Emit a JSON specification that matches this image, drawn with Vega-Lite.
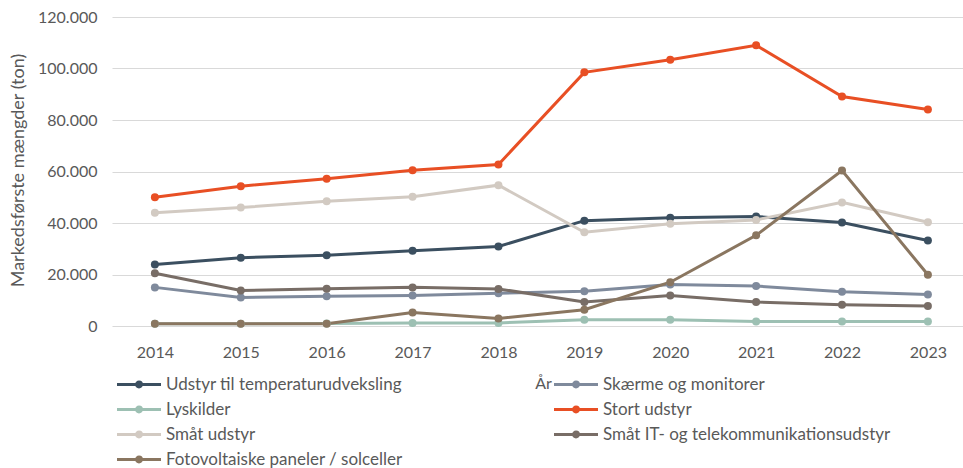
{
  "$schema": "https://vega.github.io/schema/vega-lite/v6.json",
  "autosize": {"type": "none"},
  "padding": {"left": 112, "top": 17, "right": 0, "bottom": 142},
  "width": 851,
  "height": 309,
  "background": "white",
  "config": {
    "font": "Lato",
    "view": {"stroke": null},
    "axis": {"labelColor": "#595959", "titleColor": "#595959", "labelFont": "Lato", "titleFont": "Lato"},
    "legend": {"labelColor": "#595959", "labelFont": "Lato"}
  },
  "data": {
    "values": [
      {"year": "2014", "series": "Udstyr til temperaturudveksling", "value": 23900},
      {"year": "2015", "series": "Udstyr til temperaturudveksling", "value": 26500},
      {"year": "2016", "series": "Udstyr til temperaturudveksling", "value": 27500},
      {"year": "2017", "series": "Udstyr til temperaturudveksling", "value": 29200},
      {"year": "2018", "series": "Udstyr til temperaturudveksling", "value": 30900},
      {"year": "2019", "series": "Udstyr til temperaturudveksling", "value": 40900},
      {"year": "2020", "series": "Udstyr til temperaturudveksling", "value": 42000},
      {"year": "2021", "series": "Udstyr til temperaturudveksling", "value": 42500},
      {"year": "2022", "series": "Udstyr til temperaturudveksling", "value": 40200},
      {"year": "2023", "series": "Udstyr til temperaturudveksling", "value": 33200},

      {"year": "2014", "series": "Skærme og monitorer", "value": 15000},
      {"year": "2015", "series": "Skærme og monitorer", "value": 11100},
      {"year": "2016", "series": "Skærme og monitorer", "value": 11600},
      {"year": "2017", "series": "Skærme og monitorer", "value": 11800},
      {"year": "2018", "series": "Skærme og monitorer", "value": 12700},
      {"year": "2019", "series": "Skærme og monitorer", "value": 13500},
      {"year": "2020", "series": "Skærme og monitorer", "value": 16100},
      {"year": "2021", "series": "Skærme og monitorer", "value": 15500},
      {"year": "2022", "series": "Skærme og monitorer", "value": 13300},
      {"year": "2023", "series": "Skærme og monitorer", "value": 12200},

      {"year": "2014", "series": "Lyskilder", "value": 900},
      {"year": "2015", "series": "Lyskilder", "value": 900},
      {"year": "2016", "series": "Lyskilder", "value": 1000},
      {"year": "2017", "series": "Lyskilder", "value": 1200},
      {"year": "2018", "series": "Lyskilder", "value": 1200},
      {"year": "2019", "series": "Lyskilder", "value": 2400},
      {"year": "2020", "series": "Lyskilder", "value": 2400},
      {"year": "2021", "series": "Lyskilder", "value": 1750},
      {"year": "2022", "series": "Lyskilder", "value": 1750},
      {"year": "2023", "series": "Lyskilder", "value": 1750},

      {"year": "2014", "series": "Stort udstyr", "value": 50000},
      {"year": "2015", "series": "Stort udstyr", "value": 54300},
      {"year": "2016", "series": "Stort udstyr", "value": 57200},
      {"year": "2017", "series": "Stort udstyr", "value": 60500},
      {"year": "2018", "series": "Stort udstyr", "value": 62700},
      {"year": "2019", "series": "Stort udstyr", "value": 98500},
      {"year": "2020", "series": "Stort udstyr", "value": 103400},
      {"year": "2021", "series": "Stort udstyr", "value": 109000},
      {"year": "2022", "series": "Stort udstyr", "value": 89100},
      {"year": "2023", "series": "Stort udstyr", "value": 84100},

      {"year": "2014", "series": "Småt udstyr", "value": 44000},
      {"year": "2015", "series": "Småt udstyr", "value": 46000},
      {"year": "2016", "series": "Småt udstyr", "value": 48400},
      {"year": "2017", "series": "Småt udstyr", "value": 50200},
      {"year": "2018", "series": "Småt udstyr", "value": 54700},
      {"year": "2019", "series": "Småt udstyr", "value": 36400},
      {"year": "2020", "series": "Småt udstyr", "value": 39700},
      {"year": "2021", "series": "Småt udstyr", "value": 41200},
      {"year": "2022", "series": "Småt udstyr", "value": 48000},
      {"year": "2023", "series": "Småt udstyr", "value": 40300},

      {"year": "2014", "series": "Småt IT- og telekommunikationsudstyr", "value": 20500},
      {"year": "2015", "series": "Småt IT- og telekommunikationsudstyr", "value": 13800},
      {"year": "2016", "series": "Småt IT- og telekommunikationsudstyr", "value": 14500},
      {"year": "2017", "series": "Småt IT- og telekommunikationsudstyr", "value": 15000},
      {"year": "2018", "series": "Småt IT- og telekommunikationsudstyr", "value": 14400},
      {"year": "2019", "series": "Småt IT- og telekommunikationsudstyr", "value": 9300},
      {"year": "2020", "series": "Småt IT- og telekommunikationsudstyr", "value": 11800},
      {"year": "2021", "series": "Småt IT- og telekommunikationsudstyr", "value": 9300},
      {"year": "2022", "series": "Småt IT- og telekommunikationsudstyr", "value": 8300},
      {"year": "2023", "series": "Småt IT- og telekommunikationsudstyr", "value": 7800},

      {"year": "2014", "series": "Fotovoltaiske paneler / solceller", "value": 850},
      {"year": "2015", "series": "Fotovoltaiske paneler / solceller", "value": 850},
      {"year": "2016", "series": "Fotovoltaiske paneler / solceller", "value": 850},
      {"year": "2017", "series": "Fotovoltaiske paneler / solceller", "value": 5200},
      {"year": "2018", "series": "Fotovoltaiske paneler / solceller", "value": 2900},
      {"year": "2019", "series": "Fotovoltaiske paneler / solceller", "value": 6300},
      {"year": "2020", "series": "Fotovoltaiske paneler / solceller", "value": 17000},
      {"year": "2021", "series": "Fotovoltaiske paneler / solceller", "value": 35200},
      {"year": "2022", "series": "Fotovoltaiske paneler / solceller", "value": 60400},
      {"year": "2023", "series": "Fotovoltaiske paneler / solceller", "value": 19900}
    ]
  },
  "encoding": {
    "x": {
      "field": "year",
      "type": "ordinal",
      "scale": {"type": "point", "padding": 0.454, "align": 0.55},
      "axis": {
        "title": "År",
        "labelAngle": 0,
        "labelFontSize": 16,
        "labelPadding": 18,
        "ticks": false,
        "domain": false,
        "grid": false,
        "titleFontSize": 16,
        "titleFontWeight": "normal",
        "titleX": 431,
        "titleY": 57,
        "titleAlign": "center",
        "titleBaseline": "middle"
      }
    },
    "y": {
      "field": "value",
      "type": "quantitative",
      "scale": {"domain": [0, 120000]},
      "axis": {
        "title": "Markedsførste mængder (ton)",
        "values": [0, 20000, 40000, 60000, 80000, 100000, 120000],
        "labelExpr": "replace(format(datum.value, ',d'), ',', '.')",
        "labelFontSize": 16,
        "labelPadding": 15,
        "ticks": false,
        "domain": false,
        "gridColor": "#D9D9D9",
        "gridWidth": 1,
        "titleFontSize": 18,
        "titleFontWeight": "normal",
        "titleX": -94,
        "titleY": 153,
        "titleAlign": "center",
        "titleBaseline": "middle",
        "titleAngle": -90
      }
    },
    "color": {
      "field": "series",
      "type": "nominal",
      "scale": {
        "domain": [
          "Udstyr til temperaturudveksling",
          "Skærme og monitorer",
          "Lyskilder",
          "Stort udstyr",
          "Småt udstyr",
          "Småt IT- og telekommunikationsudstyr",
          "Fotovoltaiske paneler / solceller"
        ],
        "range": ["#3B4F60", "#7F8A9C", "#9DC0B3", "#E84F24", "#D2CAC2", "#786D66", "#8A7660"]
      },
      "legend": {
        "title": null,
        "orient": "none",
        "legendX": 2,
        "legendY": 359,
        "columns": 2,
        "direction": "horizontal",
        "columnPadding": 145,
        "rowPadding": 7,
        "labelFontSize": 17,
        "labelOffset": 35,
        "labelLimit": 400,
        "symbolType": "M-1,0H7M2.55,0A0.45,0.45 0 1,1 3.45,0A0.45,0.45 0 1,1 2.55,0",
        "symbolSize": 121,
        "symbolStrokeWidth": 3,
        "symbolOpacity": 1
      }
    }
  },
  "layer": [
    {"mark": {"type": "line", "strokeWidth": 3}},
    {"mark": {"type": "point", "filled": true, "size": 64, "opacity": 1}}
  ]
}
